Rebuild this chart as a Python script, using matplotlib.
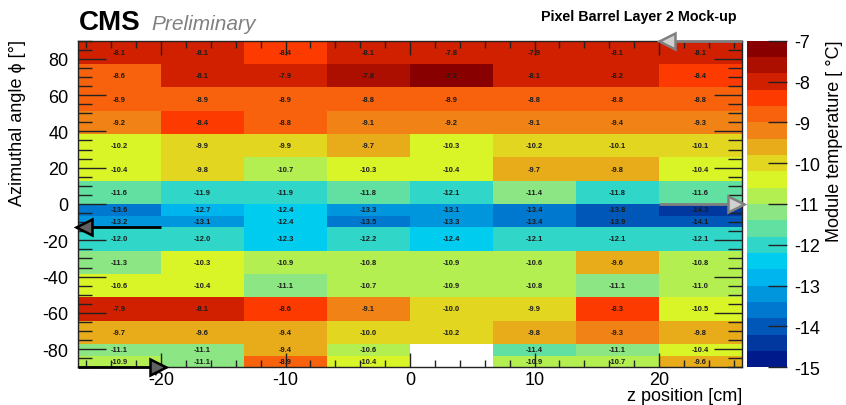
import numpy as np
import matplotlib
matplotlib.use("Agg")
import matplotlib.pyplot as plt
from matplotlib import font_manager
from matplotlib.colors import ListedColormap, BoundaryNorm
from matplotlib.ticker import MultipleLocator

plt.rcParams['axes.unicode_minus'] = False

available = {f.name for f in font_manager.fontManager.ttflist}
NARROW = 'Liberation Sans Narrow' if 'Liberation Sans Narrow' in available else 'Liberation Sans'
SANS = 'Liberation Sans'

# z bin edges [cm] (8 modules along the ladder)
z_edges = np.linspace(-80 / 3, 80 / 3, 9)

# phi bin edges [deg], top to bottom (two ladders split in half)
phi_step = 180 / 14
phi_edges_top_down = 90 - phi_step * np.array(
    [0, 1, 2, 3, 4, 5, 6, 7, 7.5, 8, 9, 10, 11, 12, 13, 13.5, 14])

# module temperatures [deg C], rows listed from top (phi = 90) to bottom (phi = -90)
row01 = [-8.1, -8.1, -8.4, -8.1, -7.82, -7.9, -8.1, -8.1]
row02 = [-8.62, -8.1, -7.9, -7.8, -7.2, -8.1, -8.2, -8.4]
row03 = [-8.9, -8.9, -8.9, -8.8, -8.9, -8.8, -8.8, -8.8]
row04 = [-9.2, -8.4, -8.8, -9.1, -9.2, -9.1, -9.4, -9.3]
row05 = [-10.22, -9.9, -9.9, -9.7, -10.3, -10.2, -10.1, -10.1]
row06 = [-10.4, -9.82, -10.7, -10.3, -10.4, -9.7, -9.8, -10.4]
row07 = [-11.6, -11.9, -11.9, -11.8, -12.1, -11.4, -11.82, -11.6]
row08 = [-13.6, -12.7, -12.4, -13.3, -13.1, -13.42, -13.82, -14.3]
row09 = [-13.2, -13.1, -12.4, -13.5, -13.3, -13.42, -13.9, -14.1]
row10 = [-12.0, -12.0, -12.3, -12.2, -12.4, -12.1, -12.1, -12.1]
row11 = [-11.3, -10.3, -10.9, -10.8, -10.9, -10.62, -9.6, -10.8]
row12 = [-10.6, -10.4, -11.1, -10.7, -10.9, -10.8, -11.1, -11.0]
row13 = [-7.9, -8.1, -8.6, -9.1, -10.0, -9.9, -8.3, -10.5]
row14 = [-9.7, -9.6, -9.42, -10.0, -10.2, -9.8, -9.3, -9.8]
row15 = [-11.1, -11.1, -9.42, -10.62, np.nan, -11.42, -11.1, -10.4]
row16 = [-10.9, -11.1, -8.9, -10.4, np.nan, -10.9, -10.7, -9.6]

temps_top_down = np.array([row01, row02, row03, row04, row05, row06, row07, row08,
                           row09, row10, row11, row12, row13, row14, row15, row16])

x_ticks = [-20, -10, 0, 10, 20]
y_ticks = [-80, -60, -40, -20, 0, 20, 40, 60, 80]
z_ticks = list(range(-15, -6))

# discrete palette, 20 levels from -15 to -7
palette = [
    '#001a8c', '#0038a0', '#0057b8', '#0078d0', '#0096de', '#00b5ee',
    '#00ccf0', '#30d6c8', '#62e0a2', '#8ce684', '#b4ef52', '#d9f528',
    '#e2d620', '#e8ab1a', '#f08216', '#f8620c', '#fd3a00', '#d02000',
    '#ac0e00', '#880000']
levels = np.round(np.linspace(-15, -7, 21), 6)
cmap = ListedColormap(palette)
cmap.set_bad('white')
norm = BoundaryNorm(levels, cmap.N)

W, H = 846, 406
fig = plt.figure(figsize=(W / 100, H / 100), dpi=100)
left, right, top, bottom = 78, 742, 41.7, 368.3
ax = fig.add_axes([left / W, 1 - bottom / H, (right - left) / W, (bottom - top) / H])
cax = fig.add_axes([747 / W, 1 - bottom / H, 40 / W, (bottom - top) / H])

phi_edges = phi_edges_top_down[::-1]
temps = np.ma.masked_invalid(temps_top_down[::-1])
mesh = ax.pcolormesh(z_edges, phi_edges, temps, cmap=cmap, norm=norm)

zc = 0.5 * (z_edges[:-1] + z_edges[1:])
pc = 0.5 * (phi_edges[:-1] + phi_edges[1:])
for i, p in enumerate(pc):
    for j, z in enumerate(zc):
        v = temps_top_down[::-1][i, j]
        if np.isfinite(v):
            ax.text(z, p, f"{v:.1f}", ha='center', va='center', fontsize=5.4,
                    fontweight='bold', color='#1c1c1c', family=SANS)

ax.set_xlim(z_edges[0], z_edges[-1])
ax.set_ylim(-90, 90)
ax.set_xticks(x_ticks)
ax.set_yticks(y_ticks)
ax.xaxis.set_minor_locator(MultipleLocator(2))
ax.yaxis.set_minor_locator(MultipleLocator(5))
ax.tick_params(axis='x', which='major', direction='in', length=10, width=1,
               top=True, bottom=True, labelsize=13, pad=3, color='#222')
ax.tick_params(axis='x', which='minor', direction='in', length=5, width=1,
               top=True, bottom=True, color='#222')
ax.tick_params(axis='y', which='major', direction='in', length=20, width=1,
               left=True, right=True, labelsize=13, pad=7, color='#222')
ax.tick_params(axis='y', which='minor', direction='in', length=10, width=1,
               left=True, right=True, color='#222')
for lab in ax.get_xticklabels() + ax.get_yticklabels():
    lab.set_family(NARROW)
for s in ax.spines.values():
    s.set_linewidth(1)
    s.set_color('#222')

cb = fig.colorbar(mesh, cax=cax, ticks=z_ticks)
cb.outline.set_linewidth(0)
cax.tick_params(direction='in', length=14, width=1, color='#222', labelsize=13,
                right=True, left=False, pad=5)
cax.minorticks_off()
for lab in cax.get_yticklabels():
    lab.set_family(NARROW)

# flow direction arrows
def flow_arrow(z0, z1, phi, line_color, face, edge):
    ax.plot([z0, z1], [phi, phi], color=line_color, lw=2, clip_on=False,
            solid_capstyle='butt', zorder=5)
    direction = np.sign(z1 - z0)
    marker = '>' if direction > 0 else '<'
    ax.plot([z1 - direction * 0.62], [phi], marker=marker, markersize=11,
            markerfacecolor=face, markeredgecolor=edge, markeredgewidth=1.8,
            clip_on=False, zorder=6)

zmax = z_edges[-1]
flow_arrow(zmax, 20, 90, '#808080', '#d0d0d0', '#808080')
flow_arrow(20, zmax + 0.15, 0, '#808080', '#d0d0d0', '#808080')
flow_arrow(-20, -zmax - 0.15, -phi_step, '#000000', '#606060', '#000000')
flow_arrow(-zmax, -19.6, -90, '#000000', '#606060', '#000000')

fig.text(79 / W, 1 - 30 / H, 'CMS', fontsize=20, fontweight='bold',
         family=SANS, ha='left', va='baseline')
fig.text(151 / W, 1 - 30 / H, 'Preliminary', fontsize=15, style='italic',
         color='#808080', family=SANS, ha='left', va='baseline')
fig.text(737 / W, 1 - 20.5 / H, 'Pixel Barrel Layer 2 Mock-up', fontsize=10.3,
         fontweight='bold', family=SANS, ha='right', va='baseline')

fig.text(742 / W, 1 - 401 / H, 'z position [cm]', fontsize=13, family=NARROW,
         ha='right', va='baseline')
fig.text(18 / W, 1 - 40 / H, 'Azimuthal angle \u03d5 [\u00b0]', fontsize=13,
         family=[NARROW, 'DejaVu Sans'], rotation=90, ha='center', va='top')
fig.text(834 / W, 1 - 40 / H, 'Module temperature [ \u00b0C]', fontsize=13,
         family=NARROW, rotation=90, ha='center', va='top')

fig.savefig('out.png', dpi=100)
